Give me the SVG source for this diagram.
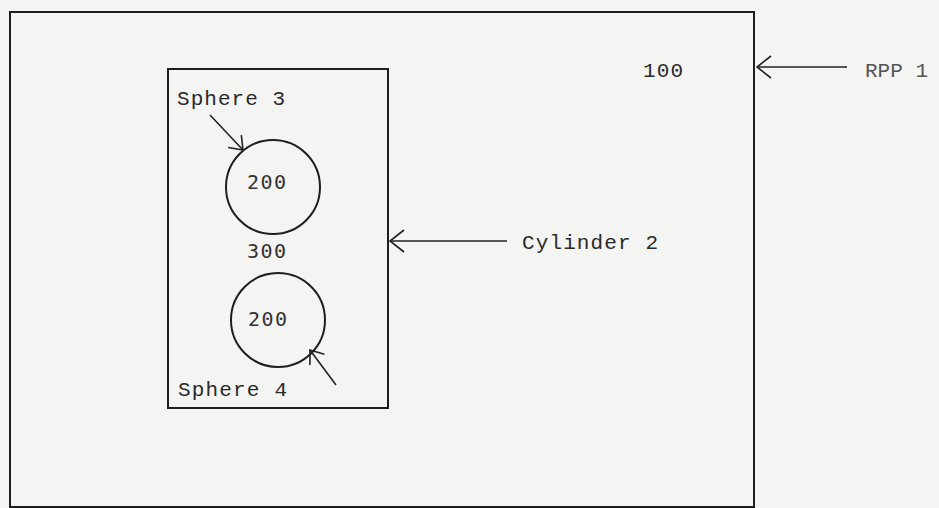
<svg xmlns="http://www.w3.org/2000/svg" width="939" height="508" viewBox="0 0 939 508">
  <style>
    .box { fill: none; stroke: #1e1e1e; stroke-width: 2; }
    .circ { fill: none; stroke: #1e1e1e; stroke-width: 2; }
    .conn { fill: none; stroke: #222; stroke-width: 1.6; }
    .t { font-family: "Liberation Mono", "DejaVu Sans Mono", monospace; font-size: 21px; fill: #2a2a2a; }
    .n { font-family: "DejaVu Sans Mono", "Liberation Mono", monospace; font-size: 20px; fill: #333; }
    .lt { fill: #555; }
  </style>
  <defs>
    <marker id="arr" viewBox="0 0 16 24" refX="15" refY="12" markerWidth="16" markerHeight="24" markerUnits="userSpaceOnUse" orient="auto">
      <path d="M1,1 L15,12 L1,23" fill="none" stroke="#222" stroke-width="1.6"/>
    </marker>
    <marker id="arrS" viewBox="0 0 14 20" refX="13" refY="10" markerWidth="14" markerHeight="20" markerUnits="userSpaceOnUse" orient="auto">
      <path d="M1,1 L13,10 L1,19" fill="none" stroke="#222" stroke-width="1.6"/>
    </marker>
  </defs>
  <rect x="0" y="0" width="939" height="508" fill="#f4f4f2"/>

  <g id="rpp1">
    <rect class="box" x="10" y="12" width="744" height="495"/>
    <text class="t" x="643" y="77" textLength="40">100</text>
    <text class="t lt" x="865" y="77" textLength="63">RPP 1</text>
  </g>

  <g id="cylinder2">
    <rect class="box" x="168" y="69" width="220" height="339" stroke-width="2.4"/>
    <text class="n" x="247" y="258" textLength="39">300</text>
    <text class="t" x="522" y="249" textLength="136">Cylinder 2</text>
  </g>

  <g id="sphere3">
    <circle class="circ" cx="273" cy="187" r="47"/>
    <text class="n" x="247" y="189" textLength="39">200</text>
    <text class="t" x="177" y="105" textLength="108">Sphere 3</text>
  </g>

  <g id="sphere4">
    <circle class="circ" cx="278" cy="320" r="47"/>
    <text class="n" x="248" y="326" textLength="39">200</text>
    <text class="t" x="178" y="396" textLength="109">Sphere 4</text>
  </g>

  <g id="connectors">
    <line class="conn" x1="847" y1="67" x2="757" y2="67" marker-end="url(#arr)"/>
    <line class="conn" x1="507" y1="241" x2="390" y2="241" marker-end="url(#arr)"/>
    <line class="conn" x1="210" y1="115" x2="243" y2="150" marker-end="url(#arrS)"/>
    <line class="conn" x1="336" y1="385" x2="310" y2="350" marker-end="url(#arrS)"/>
  </g>
</svg>
